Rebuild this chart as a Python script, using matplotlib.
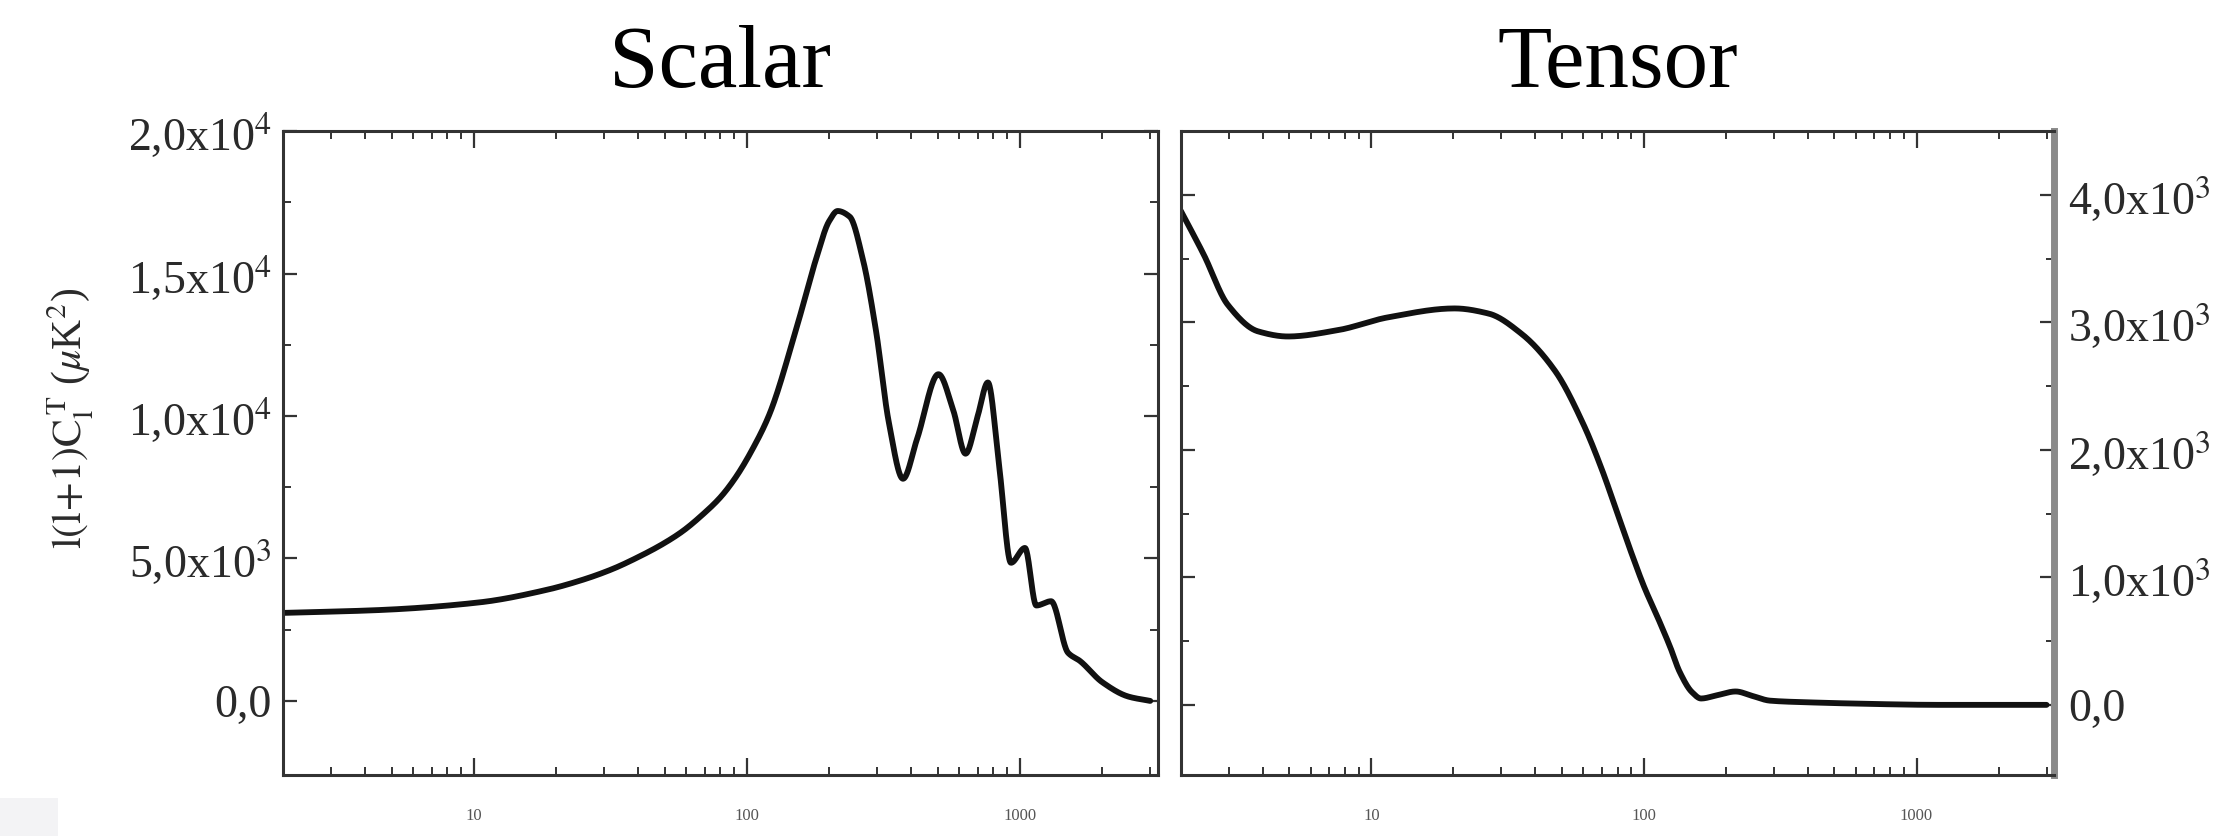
import numpy as np
import matplotlib
matplotlib.use("Agg")
import matplotlib.pyplot as plt
from matplotlib.ticker import FixedLocator, LogLocator, NullFormatter, FixedFormatter
from matplotlib.patches import Rectangle

plt.rcParams['font.family'] = ['Liberation Serif', 'DejaVu Serif']
plt.rcParams['mathtext.fontset'] = 'stix'

# Scalar spectrum
scalar_l = [2, 4.5, 10.5, 18.5, 25, 32, 40, 49, 58, 69, 80, 91, 105, 121, 151, 179, 200,
            215, 238, 266, 297, 331, 373, 420, 503, 570, 632, 700, 763, 840, 927, 1043,
            1148, 1300, 1500, 1660, 2000, 2500, 3000]
scalar_cl = [3090, 3190, 3460, 3900, 4250, 4620, 5050, 5500, 5950, 6550, 7150, 7850,
             8850, 10070, 13000, 15500, 16840, 17200, 17000, 15500, 13000, 9780, 7800,
             9200, 11470, 10200, 8680, 10000, 11180, 8200, 4850, 5370, 3350, 3500, 1690,
             1400, 660, 150, 0]

# Tensor spectrum
tensor_l = [2, 2.43, 2.97, 3.84, 4.94, 7.55, 11.5, 20.2, 26.9, 35.6, 47.2, 60, 70, 80,
            90, 100, 114, 125, 135, 150, 162, 185, 217, 250, 290, 400, 600, 1200, 3000]
tensor_cl = [3875, 3530, 3140, 2930, 2890, 2940, 3040, 3110, 3070, 2910, 2620, 2200,
             1850, 1500, 1190, 930, 654, 450, 262, 100, 50, 75, 105, 70, 33, 20, 10, 0, 0]

x_ticks = [10, 100, 1000]
x_labels = ['10', '100', '1000']
scalar_yticks = [0, 5000, 10000, 15000, 20000]
scalar_ylabels = ['0,0', r'5,0x10$^{3}$', r'1,0x10$^{4}$', r'1,5x10$^{4}$', r'2,0x10$^{4}$']
tensor_yticks = [0, 1000, 2000, 3000, 4000]
tensor_ylabels = ['0,0', r'1,0x10$^{3}$', r'2,0x10$^{3}$', r'3,0x10$^{3}$', r'4,0x10$^{3}$']


def smooth(lx, ly, n=40):
    # monotone cubic (Fritsch-Carlson) through the points, in log-l space
    x = np.log10(np.asarray(lx, float))
    y = np.asarray(ly, float)
    h = np.diff(x)
    d = np.diff(y) / h
    m = np.zeros_like(y)
    m[0], m[-1] = d[0], d[-1]
    for i in range(1, len(y) - 1):
        if d[i - 1] * d[i] > 0:
            w1 = 2 * h[i] + h[i - 1]
            w2 = h[i] + 2 * h[i - 1]
            m[i] = (w1 + w2) / (w1 / d[i - 1] + w2 / d[i])
    xs, ys = [], []
    for i in range(len(h)):
        t = np.linspace(0, 1, n, endpoint=False)
        h00 = 2 * t**3 - 3 * t**2 + 1
        h10 = t**3 - 2 * t**2 + t
        h01 = -2 * t**3 + 3 * t**2
        h11 = t**3 - t**2
        xs.append(x[i] + t * h[i])
        ys.append(h00 * y[i] + h10 * h[i] * m[i] + h01 * y[i + 1] + h11 * h[i] * m[i + 1])
    xs.append([x[-1]])
    ys.append([y[-1]])
    return 10 ** np.concatenate(xs), np.concatenate(ys)


fig = plt.figure(figsize=(22.28, 8.36), dpi=100)
ax1 = fig.add_axes([0.127, 0.073, 0.3927, 0.770])
ax2 = fig.add_axes([0.530, 0.073, 0.392, 0.770])

xs, ys = smooth(scalar_l, scalar_cl)
ax1.plot(xs, ys, color='#111111', lw=4.2, solid_capstyle='round')
xs, ys = smooth(tensor_l, tensor_cl)
ax2.plot(xs, ys, color='#111111', lw=4.2, solid_capstyle='round')

for ax in (ax1, ax2):
    ax.set_xscale('log')
    ax.set_xlim(2, 3200)
    ax.xaxis.set_major_locator(FixedLocator(x_ticks))
    ax.xaxis.set_major_formatter(FixedFormatter(x_labels))
    ax.xaxis.set_minor_locator(LogLocator(base=10, subs=np.arange(2, 10)))
    ax.xaxis.set_minor_formatter(NullFormatter())
    ax.tick_params(axis='both', which='both', direction='in', top=True, bottom=True,
                   left=True, right=True, color='#333333')
    ax.tick_params(axis='x', which='major', length=12, width=1.6, labelsize=12,
                   labelcolor='#555555', pad=24)
    ax.tick_params(axis='x', which='minor', length=6, width=1.4)
    ax.tick_params(axis='y', which='major', length=10, width=1.6, labelsize=33,
                   labelcolor='#2a2a2a')
    ax.tick_params(axis='y', which='minor', length=6, width=1.4)
    for sp in ax.spines.values():
        sp.set_linewidth(2.2)
        sp.set_color('#333333')

ax1.set_ylim(-2600, 20000)
ax1.yaxis.set_major_locator(FixedLocator(scalar_yticks))
ax1.yaxis.set_major_formatter(FixedFormatter(scalar_ylabels))
ax1.yaxis.set_minor_locator(FixedLocator([2500, 7500, 12500, 17500]))
ax1.tick_params(axis='y', labelleft=True, labelright=False, pad=8)
ax1.set_title('Scalar', fontsize=64, pad=32)
fig.text(0.032, 0.50, r'$\mathrm{l(l\!+\!1)C_l^{\,T}}$ ($\mu$K$^2$)', rotation=90,
         fontsize=30, ha='center', va='center', color='#2a2a2a')

ax2.set_ylim(-550, 4500)
ax2.yaxis.set_major_locator(FixedLocator(tensor_yticks))
ax2.yaxis.set_major_formatter(FixedFormatter(tensor_ylabels))
ax2.yaxis.set_minor_locator(FixedLocator([500, 1500, 2500, 3500]))
ax2.tick_params(axis='y', labelleft=False, labelright=True, pad=10)
ax2.spines['right'].set_color('#8a8a8a')
ax2.spines['right'].set_linewidth(5)
ax2.set_title('Tensor', fontsize=64, pad=32)

fig.patches.append(Rectangle((0, 0), 0.026, 0.045, transform=fig.transFigure,
                             facecolor='#f3f3f5', edgecolor='none'))

fig.savefig('out.png', dpi=100)
